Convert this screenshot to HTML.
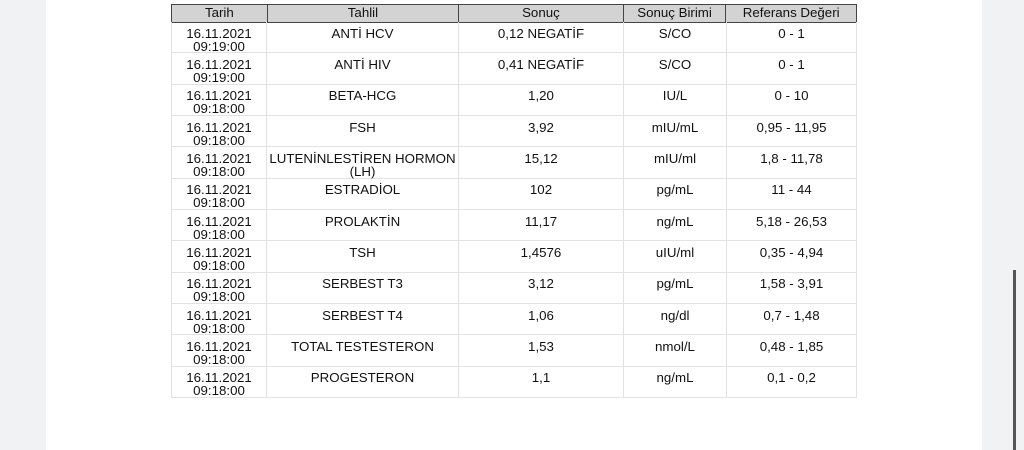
<!DOCTYPE html><html><head><style>
body{margin:0;width:1024px;height:450px;background:#f1f2f3;position:relative;overflow:hidden;font-family:"Liberation Sans",sans-serif;font-size:13.3px;color:#111;}
.page{position:absolute;left:46px;top:0;width:936px;height:450px;background:#fff;}
.bar{position:absolute;left:1013px;top:270px;width:3px;height:180px;background:#555;}
.hd{position:absolute;left:171px;top:4px;width:686px;height:19px;background:#d3d3d3;border:1.5px solid #444;box-sizing:border-box;display:flex;}
.hd div{text-align:center;line-height:16px;border-right:1px solid #444;box-sizing:border-box;}
.hd div:last-child{border-right:none}
.r{position:absolute;left:171px;width:686px;height:31.33px;display:flex;border-bottom:1px solid #e2e2e2;border-left:1px solid #e2e2e2;box-sizing:border-box;}
.r div{text-align:center;line-height:13px;padding-top:4.5px;border-right:1px solid #e2e2e2;box-sizing:border-box;}
.c1{width:96px}.c2{width:192px}.c3{width:165px}.c4{width:103px}.c5{width:130px}
.r .c1{width:95px}
</style></head><body><div class="page"></div><div class="bar"></div>
<div class="hd"><div class="c1">Tarih</div><div class="c2">Tahlil</div><div class="c3">Sonuç</div><div class="c4">Sonuç Birimi</div><div class="c5">Referans Değeri</div></div>
<div class="r" style="top:22px"><div class="c1">16.11.2021<br>09:19:00</div><div class="c2">ANTİ HCV</div><div class="c3">0,12 NEGATİF</div><div class="c4">S/CO</div><div class="c5">0 - 1</div></div>
<div class="r" style="top:53.33px"><div class="c1">16.11.2021<br>09:19:00</div><div class="c2">ANTİ HIV</div><div class="c3">0,41 NEGATİF</div><div class="c4">S/CO</div><div class="c5">0 - 1</div></div>
<div class="r" style="top:84.67px"><div class="c1">16.11.2021<br>09:18:00</div><div class="c2">BETA-HCG</div><div class="c3">1,20</div><div class="c4">IU/L</div><div class="c5">0 - 10</div></div>
<div class="r" style="top:116px"><div class="c1">16.11.2021<br>09:18:00</div><div class="c2">FSH</div><div class="c3">3,92</div><div class="c4">mIU/mL</div><div class="c5">0,95 - 11,95</div></div>
<div class="r" style="top:147.33px"><div class="c1">16.11.2021<br>09:18:00</div><div class="c2">LUTENİNLESTİREN HORMON<br>(LH)</div><div class="c3">15,12</div><div class="c4">mIU/ml</div><div class="c5">1,8 - 11,78</div></div>
<div class="r" style="top:178.67px"><div class="c1">16.11.2021<br>09:18:00</div><div class="c2">ESTRADİOL</div><div class="c3">102</div><div class="c4">pg/mL</div><div class="c5">11 - 44</div></div>
<div class="r" style="top:210px"><div class="c1">16.11.2021<br>09:18:00</div><div class="c2">PROLAKTİN</div><div class="c3">11,17</div><div class="c4">ng/mL</div><div class="c5">5,18 - 26,53</div></div>
<div class="r" style="top:241.33px"><div class="c1">16.11.2021<br>09:18:00</div><div class="c2">TSH</div><div class="c3">1,4576</div><div class="c4">uIU/ml</div><div class="c5">0,35 - 4,94</div></div>
<div class="r" style="top:272.67px"><div class="c1">16.11.2021<br>09:18:00</div><div class="c2">SERBEST T3</div><div class="c3">3,12</div><div class="c4">pg/mL</div><div class="c5">1,58 - 3,91</div></div>
<div class="r" style="top:304px"><div class="c1">16.11.2021<br>09:18:00</div><div class="c2">SERBEST T4</div><div class="c3">1,06</div><div class="c4">ng/dl</div><div class="c5">0,7 - 1,48</div></div>
<div class="r" style="top:335.33px"><div class="c1">16.11.2021<br>09:18:00</div><div class="c2">TOTAL TESTESTERON</div><div class="c3">1,53</div><div class="c4">nmol/L</div><div class="c5">0,48 - 1,85</div></div>
<div class="r" style="top:366.67px"><div class="c1">16.11.2021<br>09:18:00</div><div class="c2">PROGESTERON</div><div class="c3">1,1</div><div class="c4">ng/mL</div><div class="c5">0,1 - 0,2</div></div>
</body></html>
